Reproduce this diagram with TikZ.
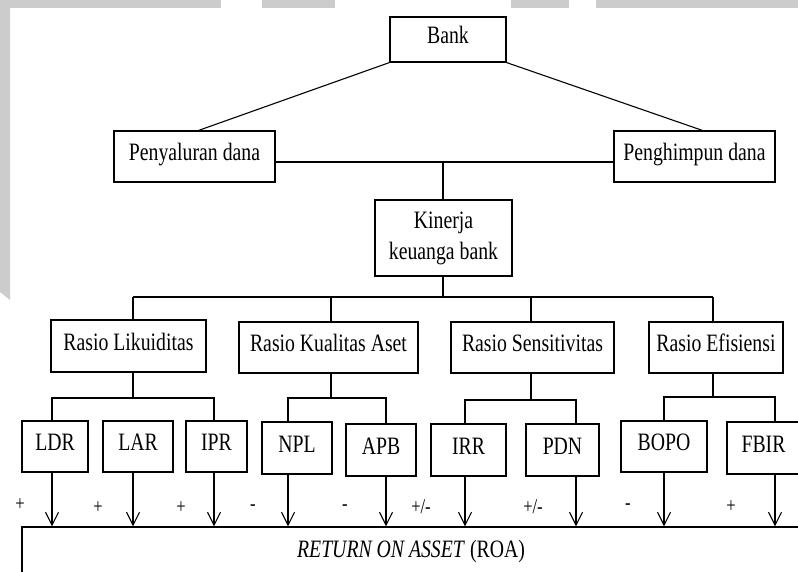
\documentclass[tikz,border=0pt]{standalone}
\usepackage{fontspec}
\setmainfont{Liberation Serif}[FakeStretch=0.79]
\usetikzlibrary{arrows.meta,calc}
\definecolor{bggray}{RGB}{204,204,204}
\newcommand\mkbox[7][]{\node[box,#1,minimum width={(#5-#3)*1pt},minimum height={(#6-#4)*1pt}] (#2) at ({(#3+#5)/2},{(#4+#6)/2}) {#7};}
\begin{document}
\begin{tikzpicture}[x=1pt,y=-1pt,
  box/.style={draw,line width=1.1pt,inner sep=0pt,text height=18pt,text depth=10pt,font=\fontsize{25}{31}\selectfont},
  conn/.style={line width=1.1pt},
  arr/.style={line width=1.1pt,-{Straight Barb[length=13pt,width=13pt,line width=1.1pt]}},
  sign/.style={font=\fontsize{21}{21}\selectfont,inner sep=0pt}]
\useasboundingbox (0,0) rectangle (798,571);
% background strips
\fill[bggray] (0,0) rectangle (221,8);
\fill[bggray] (262,0) rectangle (335,8);
\fill[bggray] (511,0) rectangle (569,8);
\fill[bggray] (596,0) rectangle (798,8);
\fill[bggray] (0,0) -- (10,0) -- (10,300) -- (0,292) -- cycle;
% boxes
\mkbox{bank}{390}{17}{506}{62}{Bank}
\mkbox{pen}{114}{131}{275}{182}{Penyaluran dana}
\mkbox{peng}{614}{131}{775}{182}{Penghimpun dana}
\mkbox[align=center,text height=,text depth=]{kin}{375}{200}{512}{276}{Kinerja\\keuanga bank}
\mkbox{liq}{51}{320}{206}{372}{Rasio Likuiditas}
\mkbox{kua}{239}{322}{418}{373}{Rasio Kualitas Aset}
\mkbox{sen}{451}{322}{614}{373}{Rasio Sensitivitas}
\mkbox{efi}{649}{322}{783}{373}{Rasio Efisiensi}
\mkbox{ldr}{22}{421}{88}{472}{LDR}
\mkbox{lar}{103}{421}{173}{472}{LAR}
\mkbox{ipr}{186}{421}{247}{472}{IPR}
\mkbox{npl}{262}{422}{332}{474}{NPL}
\mkbox{apb}{346}{424}{416}{476}{APB}
\mkbox{irr}{431}{424}{506}{476}{IRR}
\mkbox{pdn}{526}{424}{599}{476}{PDN}
\mkbox{bopo}{621}{421}{707}{472}{BOPO}
\mkbox{fbir}{727}{422}{800}{474}{FBIR}
\mkbox[text height=,text depth=]{roa}{22}{527}{800}{575}{\textit{RETURN ON ASSET} (ROA)}
% top connectors
\draw[conn] (bank.south west) -- ($(pen.north)+(4,0)$);
\draw[conn] (bank.south east) -- ($(peng.north)+(8,0)$);
\coordinate (j1) at (443,162);
\draw[conn] (pen.east |- j1) -- (peng.west |- j1);
\draw[conn] (j1) -- (kin.north -| j1);
\coordinate (j2) at (443,297);
\draw[conn] (kin.south -| j2) -- (j2);
\coordinate (dliq) at (133,297);
\coordinate (dkua) at (331,297);
\coordinate (dsen) at (531,297);
\coordinate (defi) at (713,297);
\draw[conn] (dliq) -- (defi);
\foreach \n/\d in {liq/dliq,kua/dkua,sen/dsen,efi/defi}
  \draw[conn] (\d) -- (\n.north -| \d);
% sub buses
\coordinate (sl) at (133,398);
\draw[conn] (liq.south -| sl) -- (sl);
\draw[conn] (ldr.north -| 52,0) -- (52,398) -- (214,398) -- (ipr.north -| 214,0);
\coordinate (sk) at (331,398);
\draw[conn] (kua.south -| sk) -- (sk);
\draw[conn] (npl.north -| 288,0) -- (288,398) -- (386,398) -- (apb.north -| 386,0);
\coordinate (ss) at (531,400);
\draw[conn] (sen.south -| ss) -- (ss);
\draw[conn] (irr.north -| 465,0) -- (465,400) -- (576,400) -- (pdn.north -| 576,0);
\coordinate (se) at (713,397);
\draw[conn] (efi.south -| se) -- (se);
\draw[conn] (bopo.north -| 664,0) -- (664,397) -- (775,397) -- (fbir.north -| 775,0);
% arrows to ROA
\foreach \n/\x in {ldr/52,lar/133,ipr/214,npl/288,apb/386,irr/465,pdn/576,bopo/664,fbir/775}
  \draw[arr] (\n.south -| \x,0) -- (roa.north -| \x,0);
% signs
\node[sign] (s1) at (20,505) {+};
\node[sign] (s2) at (98,508) {+};
\node[sign] (s3) at (181,508) {+};
\node[sign] (s4) at (253,508) {-};
\node[sign] (s5) at (345,508) {-};
\node[sign] (s6) at (421,507) {+/-};
\node[sign] (s7) at (533,507) {+/-};
\node[sign] (s8) at (628,507) {-};
\node[sign] (s9) at (731,507) {+};
\end{tikzpicture}
\end{document}
